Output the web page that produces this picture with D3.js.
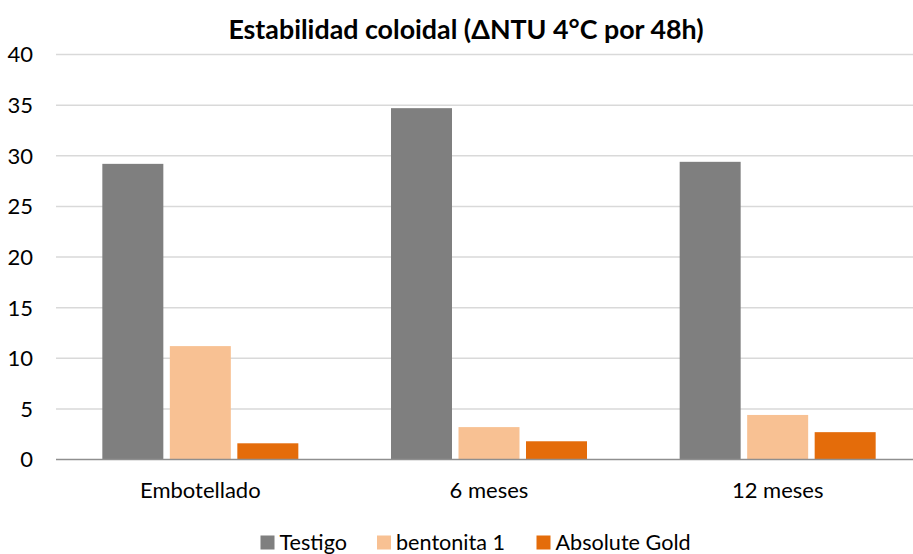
<!DOCTYPE html>
<html>
<head>
<meta charset="utf-8">
<script src="https://cdn.jsdelivr.net/npm/d3@7"></script>
<style>
  html, body { margin: 0; padding: 0; background: #fff; }
  svg { display: block; }
  text { font-family: Lato, "Open Sans", sans-serif; fill: #000; }
</style>
</head>
<body>
<script>
const categories = ["Embotellado", "6 meses", "12 meses"];
const seriesNames = ["Testigo", "bentonita 1", "Absolute Gold"];
const testigo = [29.2, 34.7, 29.4];
const bentonita = [11.2, 3.2, 4.4];
const absoluteGold = [1.6, 1.8, 2.7];
const yTicks = [0, 5, 10, 15, 20, 25, 30, 35, 40];
const colors = ["#7f7f7f", "#f8c193", "#e46c0a"];
const chartTitle = "Estabilidad coloidal (ΔNTU 4°C por 48h)";

const W = 913, H = 554;
const svg = d3.select("body").append("svg").attr("width", W).attr("height", H);

const plotLeft = 56, plotRight = 922, plotTop = 54.5, plotBottom = 459.5;

const x = d3.scaleBand().domain(categories).range([plotLeft, plotRight]).paddingInner(0).paddingOuter(0);
const y = d3.scaleLinear().domain([0, 40]).range([plotBottom, plotTop]);

// gridlines
svg.append("g").selectAll("line").data(yTicks.filter(d => d > 0)).join("line")
  .attr("x1", plotLeft).attr("x2", W)
  .attr("y1", d => y(d)).attr("y2", d => y(d))
  .attr("stroke", "#d9d9d9").attr("stroke-width", 1.5);

// y tick labels
svg.append("g").selectAll("text").data(yTicks).join("text")
  .attr("x", 33).attr("y", d => y(d)).attr("dy", "0.36em")
  .attr("text-anchor", "end").attr("font-size", 22)
  .text(d => d);

// bars
const data = [testigo, bentonita, absoluteGold];
const barW = 61, barGap = 6.5;
const groupW = barW * 3 + barGap * 2;
const xs = d3.scaleBand().domain(seriesNames)
  .range([0, groupW]).paddingInner(barGap / (barW + barGap)).paddingOuter(0);

seriesNames.forEach((s, si) => {
  svg.append("g").selectAll("rect").data(categories).join("rect")
    .attr("x", c => x(c) + x.bandwidth() / 2 - groupW / 2 + xs(s))
    .attr("width", xs.bandwidth())
    .attr("y", (c, i) => y(data[si][i]))
    .attr("height", (c, i) => y(0) - y(data[si][i]))
    .attr("fill", colors[si]);
});

// x axis line
svg.append("line").attr("x1", plotLeft).attr("x2", W)
  .attr("y1", plotBottom).attr("y2", plotBottom)
  .attr("stroke", "#8f8f8f").attr("stroke-width", 1.5);

// x labels
svg.append("g").selectAll("text").data(categories).join("text")
  .attr("x", c => x(c) + x.bandwidth() / 2).attr("y", 497.5)
  .attr("text-anchor", "middle").attr("font-size", 22)
  .text(c => c);

// title
svg.append("text").attr("x", 466).attr("y", 38.5)
  .attr("text-anchor", "middle").attr("font-size", 26.8).attr("font-weight", "bold")
  .text(chartTitle);

// legend
const legendX = [260.5, 377, 536.5];
const lg = svg.append("g");
seriesNames.forEach((s, i) => {
  lg.append("rect").attr("x", legendX[i]).attr("y", 535.5).attr("width", 14).attr("height", 14)
    .attr("fill", colors[i]);
  lg.append("text").attr("x", legendX[i] + 19).attr("y", 549.5)
    .attr("font-size", 21.6).text(s);
});
</script>
</body>
</html>
